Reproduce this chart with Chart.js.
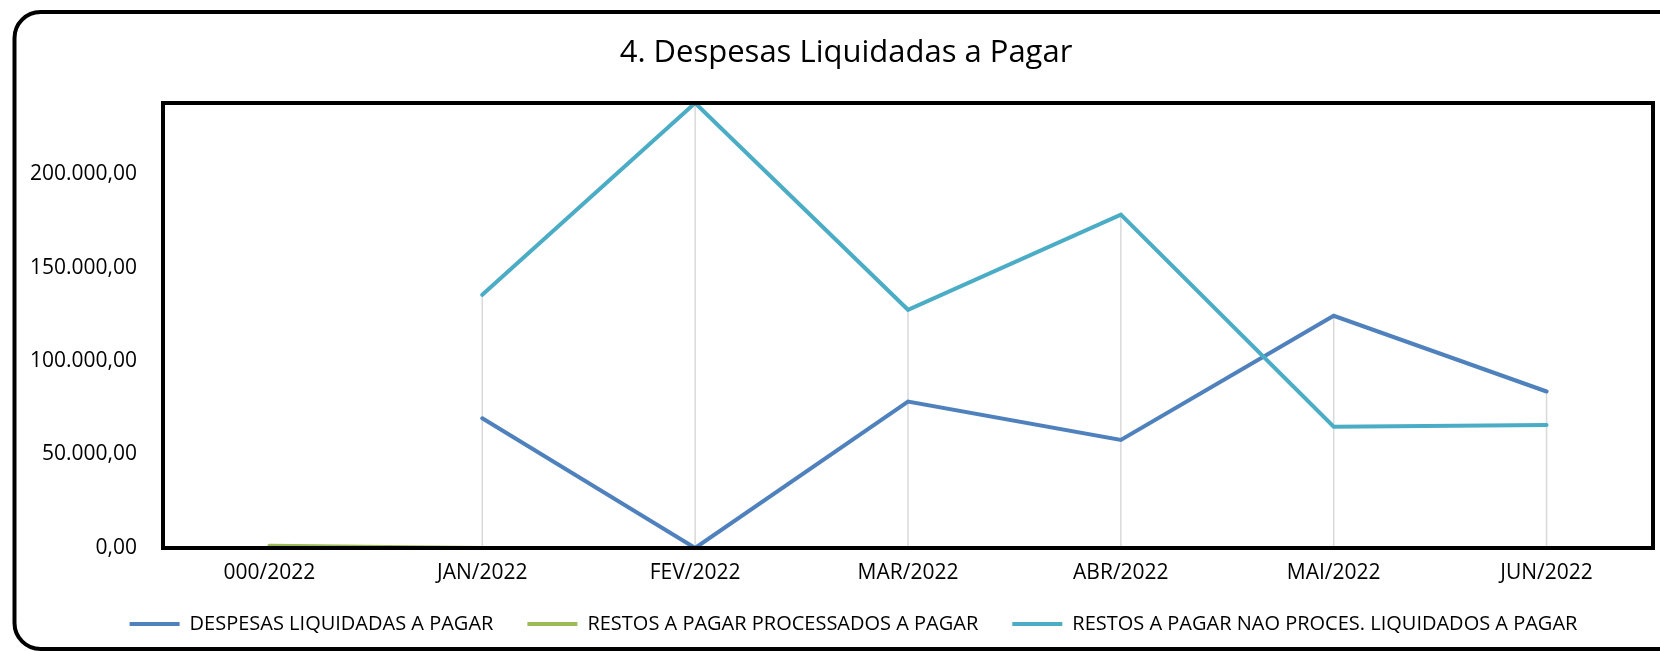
<!DOCTYPE html>
<html>
<head>
<meta charset="utf-8">
<script src="https://cdn.jsdelivr.net/npm/chart.js"></script>
<style>
  html, body { margin: 0; padding: 0; background: #ffffff; }
  #wrap { width: 1660px; height: 651px; }
</style>
</head>
<body>
<div id="wrap"><canvas id="despesas"></canvas></div>
<script>
// data
var meses = ['000/2022', 'JAN/2022', 'FEV/2022', 'MAR/2022', 'ABR/2022', 'MAI/2022', 'JUN/2022'];
var despesasLiquidadas = [null, 69400, 0, 78300, 57800, 124200, 83700];
var restosProcessados = [1200, 0, 0, 0, 0, 0, 0];
var restosNaoProcessados = [null, 135400, 238000, 127400, 178300, 64900, 65800];
var yTicks = [0, 50000, 100000, 150000, 200000];
var yMax = 238000;

var fontFamily = "'Open Sans', 'Noto Sans', sans-serif";

// 200000 -> "200.000,00"
function formatBR(v) {
    var parts = Number(v).toFixed(2).split('.');
    var inteiro = parts[0].replace(/\B(?=(\d{3})+(?!\d))/g, '.');
    return inteiro + ',' + parts[1];
}

// outer rounded border of the chart object
const outerBorder = {
    id: 'outerBorder',
    beforeDraw: function(chart) {
        var ctx = chart.ctx;
        ctx.save();
        ctx.fillStyle = '#ffffff';
        ctx.fillRect(0, 0, chart.width, chart.height);
        ctx.beginPath();
        ctx.roundRect(14.5, 12, 1720, 637, 26);
        ctx.lineWidth = 4;
        ctx.strokeStyle = '#000000';
        ctx.stroke();
        ctx.restore();
    }
};

// the original chart object is wider than the picture, so title and legend sit a bit to the right
const nudgeBoxes = {
    id: 'nudgeBoxes',
    afterLayout: function(chart) {
        if (chart.titleBlock) {
            chart.titleBlock.left += 39;
        }
        if (chart.legend) {
            chart.legend.left += 54;
            chart.legend.top -= 7;
            chart.legend.bottom -= 7;
        }
    }
};

// excel style drop lines, from the highest value of each month down to the axis
const dropLines = {
    id: 'dropLines',
    beforeDatasetsDraw: function(chart) {
        var ctx = chart.ctx;
        var x = chart.scales.x;
        var y = chart.scales.y;
        ctx.save();
        ctx.strokeStyle = '#d9d9d9';
        ctx.lineWidth = 1.5;
        meses.forEach(function(m, i) {
            var maior = null;
            chart.data.datasets.forEach(function(ds) {
                var v = ds.data[i];
                if (v !== null && (maior === null || v > maior)) maior = v;
            });
            if (maior === null || maior <= 0) return;
            var px = x.getPixelForValue(i);
            ctx.beginPath();
            ctx.moveTo(px, y.getPixelForValue(maior));
            ctx.lineTo(px, chart.chartArea.bottom);
            ctx.stroke();
        });
        ctx.restore();
    }
};

// thick black frame round the plot area
const plotFrame = {
    id: 'plotFrame',
    afterDatasetsDraw: function(chart) {
        var a = chart.chartArea;
        var ctx = chart.ctx;
        ctx.save();
        ctx.lineWidth = 4;
        ctx.strokeStyle = '#000000';
        ctx.strokeRect(a.left, a.top, a.right - a.left, a.bottom - a.top);
        ctx.restore();
    }
};

const canvas = document.getElementById('despesas');

new Chart(canvas, {
    type: 'line',
    data: {
        labels: meses,
        datasets: [{
            label: 'DESPESAS LIQUIDADAS A PAGAR',
            data: despesasLiquidadas,
            borderColor: '#4f81bd',
            backgroundColor: '#4f81bd',
            pointBorderColor: '#4f81bd',
            order: 3
        }, {
            label: 'RESTOS A PAGAR PROCESSADOS A PAGAR',
            data: restosProcessados,
            borderColor: '#9bbb59',
            backgroundColor: '#9bbb59',
            pointBorderColor: '#9bbb59',
            order: 2
        }, {
            label: 'RESTOS A PAGAR NAO PROCES. LIQUIDADOS A PAGAR',
            data: restosNaoProcessados,
            borderColor: '#4bacc6',
            backgroundColor: '#4bacc6',
            pointBorderColor: '#4bacc6',
            order: 1
        }]
    },
    options: {
        responsive: true,
        maintainAspectRatio: false,
        animation: false,
        layout: {
            padding: { left: 0, right: 7, top: 0, bottom: 0 }
        },
        elements: {
            // points hidden, border width only used by the legend line
            point: { radius: 0, hoverRadius: 0, borderWidth: 4 },
            line: { borderWidth: 4, tension: 0, borderCapStyle: 'round', borderJoinStyle: 'miter' }
        },
        scales: {
            x: {
                offset: true,
                grid: { display: false, drawTicks: false },
                border: { display: false },
                ticks: {
                    color: '#000000',
                    padding: 12,
                    maxRotation: 0,
                    font: { family: fontFamily, size: 21 }
                },
                afterFit: function(scale) { scale.height = 39; }
            },
            y: {
                min: 0,
                max: yMax,
                grid: { display: false, drawTicks: false },
                border: { display: false },
                afterBuildTicks: function(scale) {
                    scale.ticks = yTicks.map(function(v) { return { value: v }; });
                },
                ticks: {
                    color: '#000000',
                    padding: 26,
                    font: { family: fontFamily, size: 21 },
                    callback: function(value) { return formatBR(value); }
                },
                afterFit: function(scale) { scale.width = 163; }
            }
        },
        plugins: {
            title: {
                display: true,
                text: '4. Despesas Liquidadas a Pagar',
                color: '#000000',
                font: { family: fontFamily, size: 31, weight: 'normal' },
                padding: { top: 34.4, bottom: 31.4 }
            },
            legend: {
                position: 'bottom',
                labels: {
                    color: '#000000',
                    usePointStyle: true,
                    pointStyle: 'line',
                    pointStyleWidth: 50,
                    boxHeight: 20,
                    padding: 34,
                    font: { family: fontFamily, size: 20 },
                    sort: function(a, b) { return a.datasetIndex - b.datasetIndex; }
                }
            },
            tooltip: { enabled: false }
        }
    },
    plugins: [outerBorder, nudgeBoxes, dropLines, plotFrame]
});
</script>
</body>
</html>
